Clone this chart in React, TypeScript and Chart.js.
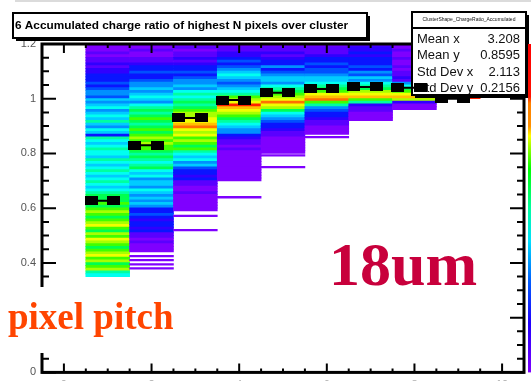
import React, { useEffect, useRef } from 'react';
import { Chart, registerables } from 'chart.js';
Chart.register(...registerables);

// ---------- data ----------
const yTop = 1.2;
const yBin = 0.01;
// colour level of each 0.01-high y bin, from 1.2 downwards, per cluster size N
const col1 = [0,0,0,1,0,1,1,2,1,2,2, 3,3,3,4,3, 4,5,5,4,
  6,5,6,7,5,6,7,6,8,6,5,7,6,3,8,
  7,6,7,8,7,7,6,8,7,6,7,8,7,6,7,8,7,
  6,7,8,9, 9,9,10, 9,10,11,10,9,
  10,11,12,10,9,11,10,12,11,10,9,10,11,12,10,11,9,10,11, 8,7];
const col2 = [0,0,1,0,0,1,1, 2,3,3,4,3,3,4,5, 5,6,5,6,7,6,5,7,
  8,9,8,9,10,9,8,9,10,9, 10,11,10,11,10,10,9, 8,9,8,7,8,9,7,
  6,7,5,6,6,5,7,6,5,6,5,6,5, 3,3,4,3,2,3,3,2,3, 1,1,0,1,0,0,0];
const col3 = [0,1,0,1,1,2,1,2, 3,3,4,3,4,5, 5,6,5, 7,8,7,8,9,8, 9,10,11, 11,12,12,13, 14,
  12,11,12,10,11,10,9,10, 8,7,6,7,5,6, 4,3,3,2,3, 1,1,0,0,1,0,0,0,0,0,0];
const col4 = [0,1,1,2,2, 3,4,3,4,5, 6,7,6,5,4, 5,6,7, 8,10,11,12, 15,
  13,12,11,10,9, 8,7,6,5,5, 3,2, 1,1,0,1,0,0,0,0,0,0,0,0,0,0,0];
const col5 = [0,1,1,2,1,2, 3,3,5,3,4, 5,6,6,5, 7,8,9,10, 11,12, 14,
  12,11,9, 7,6,5, 4,3,3,2, 1,1,0,0,0,0,0,0];
const col6 = [0,1,1,1,2, 3,3,4,3,4,4, 5,6,6, 7,8,9,10, 12,13, 14,
  10,8, 5,4,3,3,2, 1,1,0,0,0];
const col7 = [1,2,2,3,2,3,3,3,4,3, 5,4,6,5, 7,8,9, 11,12,13, 10,8, 2,1,1,0,0,0];
const col8 = [0,0,1,0,0,1,0,0,1,0,1,1,2,1, 5,7,9, 10,12,13, 11, 2,0,0];
const col9 = [0,0,0,0,0,0,0,0,0,0,0,0,0,0,0,0,0,0,0, 15];
const columns = [col1, col2, col3, col4, col5, col6, col7, col8, col9];
// isolated thin bins below the filled part: [N, y]
const sparseLines = [[2, 0.425], [2, 0.41], [2, 0.395], [2, 0.38], [3, 0.572], [3, 0.52], [4, 0.64], [5, 0.793], [5, 0.75], [6, 0.86]];

const profileN = [1, 2, 3, 4, 5, 6, 7, 8, 9];
const profileMean = [0.627, 0.83, 0.93, 0.995, 1.022, 1.036, 1.043, 1.04, 1.0];

const xTicks = [0, 2, 4, 6, 8, 10];
const yTicks = [0, 0.2, 0.4, 0.6, 0.8, 1, 1.2];
const titleText = '6 Accumulated charge ratio of highest N pixels over cluster';
const statHeader = 'ClusterShape_ChargeRatio_Accumulated';
const statLabels = ['Mean x', 'Mean y', 'Std Dev x', 'Std Dev y'];
const statValues = ['3.208', '0.8595', '2.113', '0.2156'];
const noteLeft = 'pixel pitch';
const noteRight = '18um';

const palette = ['#7f00ff', '#5a00ff', '#3000ff', '#0a14ff', '#0050ff', '#0090ff', '#00ccff', '#00fff0',
  '#00ffa0', '#00ff50', '#40ff00', '#a8ff00', '#f0ff00', '#ffc000', '#ff7000', '#ff2000'];

export default function App() {
  const ref = useRef<HTMLCanvasElement | null>(null);
  useEffect(() => {
    const cells: any[] = [];
    columns.forEach((lv, k) => lv.forEach((c, i) => {
      cells.push({ x: k + 1, y: [yTop - (i + 1) * yBin, yTop - i * yBin + 0.001], c });
    }));
    sparseLines.forEach(([n, v]) => cells.push({ x: n, y: [v - 0.003, v + 0.003], c: 0 }));

    const markers: any[] = [];
    const stubs: any[] = [];
    profileN.forEach((n, i) => {
      const m = profileMean[i];
      markers.push({ x: n - 0.38, y: m }, { x: n + 0.13, y: m });
      stubs.push({ x: n - 0.25, y: m }, { x: n + 0.05, y: m }, { x: n + 0.06, y: null });
    });

    const mk = document.createElement('canvas');
    mk.width = 13; mk.height = 9;
    const mctx = mk.getContext('2d')!;
    mctx.fillStyle = '#000';
    mctx.fillRect(0, 0, 13, 9);

    const framePlugin = {
      id: 'rootFrame',
      afterDatasetDraw(chart: any, args: any) {
        if (args.index !== 2) return;
        const ctx = chart.ctx;
        const xs = chart.scales.x, ys = chart.scales.y;
        const L = xs.left, R = xs.right, T = ys.top, B = ys.bottom;
        ctx.save();
        ctx.strokeStyle = '#000';
        // ticks
        ctx.lineWidth = 2;
        for (let v = 0; v <= 1.2001; v += 0.05) {
          const y = ys.getPixelForValue(v);
          const major = Math.abs(v / 0.2 - Math.round(v / 0.2)) < 1e-6;
          const len = major ? 14 : 7;
          ctx.beginPath();
          ctx.moveTo(L, y); ctx.lineTo(L + len, y);
          ctx.moveTo(R, y); ctx.lineTo(R - len, y);
          ctx.stroke();
        }
        for (let v = -0.5; v <= 10.5001; v += 0.5) {
          const x = xs.getPixelForValue(v);
          const major = Math.abs(v / 2 - Math.round(v / 2)) < 1e-6;
          const len = major ? 9 : 4;
          ctx.beginPath();
          ctx.moveTo(x, B); ctx.lineTo(x, B - len);
          ctx.moveTo(x, T); ctx.lineTo(x, T + len);
          ctx.stroke();
        }
        ctx.lineWidth = 3;
        ctx.strokeRect(L, T, R - L, B - T);

        // stat box
        const bx = 412, by = 12, bw = 114, bh = 83;
        ctx.fillStyle = '#000';
        ctx.fillRect(bx + 3, by + 3, bw, bh);
        ctx.fillStyle = '#fff';
        ctx.fillRect(bx, by, bw, bh);
        ctx.lineWidth = 2;
        ctx.strokeRect(bx, by, bw, bh);
        ctx.beginPath();
        ctx.moveTo(bx, by + 16); ctx.lineTo(bx + bw, by + 16);
        ctx.stroke();
        ctx.fillStyle = '#111';
        ctx.font = '5px "Liberation Sans"';
        ctx.textAlign = 'center';
        ctx.textBaseline = 'middle';
        ctx.fillText(statHeader, bx + bw / 2, by + 8);
        ctx.font = '13px "Liberation Sans"';
        statLabels.forEach((s, i) => {
          const yy = by + 27 + i * 16.5;
          ctx.textAlign = 'left';
          ctx.fillText(s, bx + 5, yy);
          ctx.textAlign = 'right';
          ctx.fillText(statValues[i], bx + bw - 6, yy);
        });
        ctx.restore();
      },
      afterDraw(chart: any) {
        const ctx = chart.ctx;
        ctx.save();
        // top grey line
        ctx.strokeStyle = '#cfcfcf';
        ctx.lineWidth = 1.5;
        ctx.beginPath(); ctx.moveTo(15, 1); ctx.lineTo(531, 1); ctx.stroke();
        // title box
        const tx = 13, ty = 13, tw = 354, th = 25;
        ctx.fillStyle = '#000';
        ctx.fillRect(tx + 3, ty + 3, tw, th);
        ctx.fillStyle = '#fff';
        ctx.fillRect(tx, ty, tw, th);
        ctx.strokeStyle = '#000';
        ctx.lineWidth = 2;
        ctx.strokeRect(tx, ty, tw, th);
        ctx.fillStyle = '#000';
        ctx.font = 'bold 11.8px "Liberation Sans"';
        ctx.textAlign = 'left';
        ctx.textBaseline = 'alphabetic';
        ctx.fillText(titleText, 15, 29);
        // palette strip
        const ys = chart.scales.y;
        const g = ctx.createLinearGradient(0, ys.top, 0, ys.bottom);
        g.addColorStop(0, '#ff0000'); g.addColorStop(0.16, '#ff1000');
        g.addColorStop(0.18, '#ff8000'); g.addColorStop(0.25, '#ff9000');
        g.addColorStop(0.28, '#ffff00'); g.addColorStop(0.3, '#c0ff00');
        g.addColorStop(0.38, '#00ff00'); g.addColorStop(0.5, '#00ffa0');
        g.addColorStop(0.6, '#00e0ff'); g.addColorStop(0.72, '#0060ff');
        g.addColorStop(0.85, '#2000ff'); g.addColorStop(1, '#7f00ff');
        ctx.fillStyle = g;
        ctx.fillRect(528, ys.top, 4, ys.bottom - ys.top);
        // pixel pitch note
        ctx.fillStyle = '#fff';
        ctx.fillRect(0, 287, 186, 66);
        ctx.fillStyle = '#ff4500';
        ctx.font = 'bold 37px "Liberation Serif"';
        ctx.fillText(noteLeft, 8, 329);
        ctx.fillStyle = '#c8003c';
        ctx.font = 'bold 62px "Liberation Serif"';
        ctx.fillText(noteRight, 329, 285);
        ctx.restore();
      },
    };

    const chart = new Chart(ref.current!, {
      type: 'bar',
      data: {
        datasets: [
          { type: 'scatter', data: markers, pointStyle: mk as any, pointRadius: 6, showLine: false } as any,
          { type: 'line', data: stubs, borderColor: '#000', borderWidth: 2, pointRadius: 0, spanGaps: false } as any,
          {
            type: 'bar', data: cells, borderWidth: 0, barPercentage: 1, categoryPercentage: 1,
            backgroundColor: (c: any) => palette[c.raw ? c.raw.c : 0],
          } as any,
        ],
      },
      options: {
        responsive: false,
        animation: false,
        events: [],
        layout: { padding: { top: 44, right: 5, left: 0, bottom: 0 } },
        plugins: { legend: { display: false }, tooltip: { enabled: false }, title: { display: false } },
        scales: {
          x: {
            type: 'linear', min: -0.5, max: 10.5, offset: false,
            grid: { display: false, drawTicks: false }, border: { display: false },
            afterBuildTicks: (s: any) => { s.ticks = xTicks.map((v) => ({ value: v })); },
            afterFit: (s: any) => { s.height = 8; },
            ticks: { padding: 6, color: '#555', font: { family: 'Liberation Sans', size: 11 }, maxRotation: 0, callback: (v: any) => String(v) },
          },
          y: {
            type: 'linear', min: 0, max: 1.2,
            grid: { display: false, drawTicks: false }, border: { display: false },
            afterBuildTicks: (s: any) => { s.ticks = yTicks.map((v) => ({ value: v })); },
            afterFit: (s: any) => { s.width = 42; },
            ticks: { padding: 6, color: '#555', font: { family: 'Liberation Sans', size: 11 }, callback: (v: any) => String(v) },
          },
        },
      } as any,
      plugins: [framePlugin],
    });
    return () => chart.destroy();
  }, []);
  return (
    <div style={{ position: 'absolute', left: 0, top: 0, width: 531, height: 385, background: '#fff' }}>
      <canvas ref={ref} width={531} height={385} style={{ display: 'block' }} />
    </div>
  );
}
